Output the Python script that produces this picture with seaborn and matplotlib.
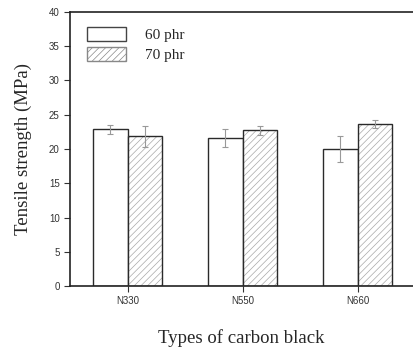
import matplotlib
matplotlib.use("Agg")
import matplotlib.pyplot as plt
import seaborn as sns
import pandas as pd
from matplotlib.patches import Rectangle, Patch

categories = ["N330", "N550", "N660"]
series = ["60 phr", "70 phr"]
values_60 = [22.85, 21.6, 20.05]
values_70 = [21.85, 22.75, 23.7]
err_60 = [0.6, 1.3, 1.9]
err_70 = [1.55, 0.65, 0.6]
yticks = [0, 5, 10, 15, 20, 25, 30, 35, 40]

df = pd.DataFrame({
    "type": categories * 2,
    "series": [series[0]] * 3 + [series[1]] * 3,
    "value": values_60 + values_70,
})

sns.set_style("ticks")
plt.rcParams["hatch.linewidth"] = 0.5
fig = plt.figure(figsize=(4.13, 3.51), dpi=100)
ax = fig.add_axes([0.1695, 0.185, 0.8305, 0.781])

sns.barplot(data=df, x="type", y="value", hue="series", order=categories,
            hue_order=series, palette=["white", "white"], errorbar=None,
            width=0.6, edgecolor="#2a2a2a", linewidth=1.0, gap=0, ax=ax,
            legend=False)

bars = [p for p in ax.patches if isinstance(p, Rectangle)]
bars60 = bars[:3]
bars70 = bars[3:6]
for p in bars70:
    p.set_hatch("/////")
    p.set_edgecolor("#a8a8a8")
    p.set_linewidth(0)
    outline = Rectangle(p.get_xy(), p.get_width(), p.get_height(),
                        fill=False, edgecolor="#2a2a2a", linewidth=1.0, zorder=3)
    ax.add_patch(outline)

for group, errs, vals in ((bars60, err_60, values_60), (bars70, err_70, values_70)):
    xs = [p.get_x() + p.get_width() / 2 for p in group]
    ax.errorbar(xs, vals, yerr=errs, fmt="none", ecolor="#999999",
                elinewidth=0.8, capsize=2.3, capthick=0.8, zorder=4)

ax.set_xlim(-0.5, 2.48)
ax.set_ylim(0, 40)
ax.set_yticks(yticks)
ax.set_xlabel("Types of carbon black", family="Liberation Serif", fontsize=13.5, labelpad=16)
ax.set_ylabel("Tensile strength (MPa)", family="Liberation Serif", fontsize=13.5, labelpad=12)
ax.tick_params(axis="both", labelsize=7, colors="#333333", length=4, width=0.8, direction="out")
for lbl in ax.get_xticklabels() + ax.get_yticklabels():
    lbl.set_family("Liberation Sans")
    lbl.set_color("#333333")

for s in ["left", "bottom", "top"]:
    ax.spines[s].set_visible(True)
    ax.spines[s].set_color("#222222")
    ax.spines[s].set_linewidth(1.2)
ax.spines["right"].set_visible(False)

handles = [
    Patch(facecolor="white", edgecolor="#444444", linewidth=1.0, label=series[0]),
    Patch(facecolor="white", edgecolor="#888888", hatch="/////", linewidth=1.0, label=series[1]),
]
ax.legend(handles=handles, loc="upper left", frameon=False,
          prop={"family": "Liberation Serif", "size": 11},
          handlelength=2.5, handleheight=1.0, handletextpad=1.3,
          labelspacing=0.35, bbox_to_anchor=(0.015, 0.99), borderaxespad=0.4)

fig.savefig("out.png", dpi=100)
